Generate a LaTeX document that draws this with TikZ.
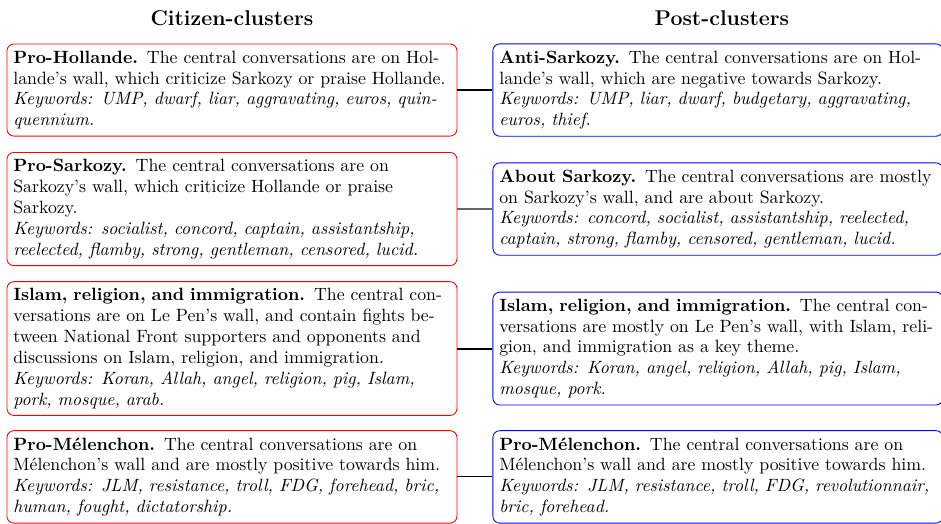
\documentclass[tikz,border=0pt]{standalone}
\usepackage{fontspec}

\begin{document}
\begin{tikzpicture}[font=\fontsize{10.25pt}{12pt}\selectfont,
 cit/.style={draw=red,line width=0.5pt,rounded corners=4pt,text width=252pt,inner xsep=3.7pt,inner ysep=4pt,align=left},
 pst/.style={draw=blue,line width=0.5pt,rounded corners=4pt,text width=252pt,inner xsep=3.7pt,inner ysep=4pt,align=left},
 ttl/.style={font=\fontsize{12.3pt}{14pt}\selectfont\bfseries}]
\useasboundingbox (0,0) rectangle (542.4pt,-302pt);
\node[ttl] (tc) at (133.7pt,-10.4pt) {Citizen-clusters};
\node[ttl] (tp) at (416.1pt,-10.4pt) {Post-clusters};
\node[cit] (c1) at (133.7pt,-51.9pt) {\textbf{Pro-Hollande.} The central conversations are on Hol-\\
lande's wall, which criticize Sarkozy or praise Hollande.\\
{\itshape Keywords: UMP, dwarf, liar, aggravating, euros, quin-\\
quennium.}};
\node[cit] (c2) at (133.7pt,-120.5pt) {\textbf{Pro-Sarkozy.} The central conversations are on\\
Sarkozy's wall, which criticize Hollande or praise\\
Sarkozy.\\
{\itshape Keywords: socialist, concord, captain, assistantship,\\
reelected, flamby, strong, gentleman, censored, lucid.}};
\node[cit] (c3) at (133.7pt,-200.9pt) {\textbf{Islam, religion, and immigration.} The central con-\\
versations are on Le Pen's wall, and contain fights be-\\
tween National Front supporters and opponents and\\
discussions on Islam, religion, and immigration.\\
{\itshape Keywords: Koran, Allah, angel, religion, pig, Islam,\\
pork, mosque, arab.}};
\node[cit] (c4) at (133.7pt,-274.9pt) {\textbf{Pro-Mélenchon.} The central conversations are on\\
Mélenchon's wall and are mostly positive towards him.\\
{\itshape Keywords: JLM, resistance, troll, FDG, forehead, bric,\\
human, fought, dictatorship.}};
\node[pst] (p1) at (413.8pt,-51.9pt) {\textbf{Anti-Sarkozy.} The central conversations are on Hol-\\
lande's wall, which are negative towards Sarkozy.\\
{\itshape Keywords: UMP, liar, dwarf, budgetary, aggravating,\\
euros, thief.}};
\node[pst] (p2) at (413.8pt,-120.5pt) {\textbf{About Sarkozy.} The central conversations are mostly\\
on Sarkozy's wall, and are about Sarkozy.\\
{\itshape Keywords: concord, socialist, assistantship, reelected,\\
captain, strong, flamby, censored, gentleman, lucid.}};
\node[pst] (p3) at (413.8pt,-200.9pt) {\textbf{Islam, religion, and immigration.} The central con-\\
versations are mostly on Le Pen's wall, with Islam, reli-\\
gion, and immigration as a key theme.\\
{\itshape Keywords: Koran, angel, religion, Allah, pig, Islam,\\
mosque, pork.}};
\node[pst] (p4) at (413.8pt,-274.9pt) {\textbf{Pro-Mélenchon.} The central conversations are on\\
Mélenchon's wall and are mostly positive towards him.\\
{\itshape Keywords: JLM, resistance, troll, FDG, revolutionnair,\\
bric, forehead.}};
\foreach \i/\w/\c in {1/1.2pt/black,2/1.1pt/black!60,3/1.2pt/black,4/0.6pt/black}
  \draw[line width=\w,\c] (c\i.east) -- (p\i.west);
\end{tikzpicture}
\end{document}
